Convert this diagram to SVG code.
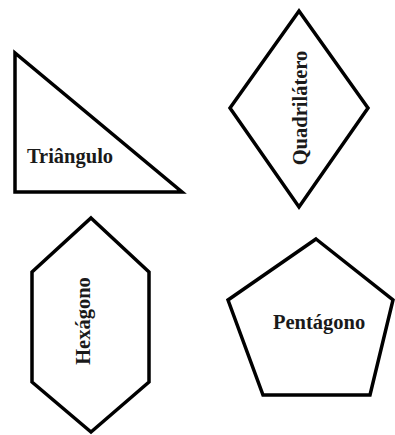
<svg xmlns="http://www.w3.org/2000/svg" width="395" height="435" viewBox="0 0 395 435">
<style>
.shape{fill:#fff;stroke:#000;stroke-width:3.5;stroke-linejoin:miter}
.lbl{font-family:"Liberation Serif","Times New Roman",serif;font-weight:bold;font-size:20.5px;fill:#1a1a1a;text-anchor:middle}
</style>
<rect width="395" height="435" fill="#fff"/>
<g id="triangulo">
<polygon class="shape" points="15,53 15,192 182,192"/>
<text class="lbl" x="70" y="163">Triângulo</text>
</g>
<g id="quadrilatero">
<polygon class="shape" points="299,11 368,108 299,207 230,108"/>
<text class="lbl" transform="translate(307,108) rotate(-90)">Quadrilátero</text>
</g>
<g id="hexagono">
<polygon class="shape" points="91,218 149,272 149,382 91,432 32,382 32,272"/>
<text class="lbl" transform="translate(90,321) rotate(-90)">Hexágono</text>
</g>
<g id="pentagono">
<polygon class="shape" points="316,239 393,300 370,395 263,395 228,300"/>
<text class="lbl" x="319" y="329">Pentágono</text>
</g>
<g id="connectors"/>
</svg>
